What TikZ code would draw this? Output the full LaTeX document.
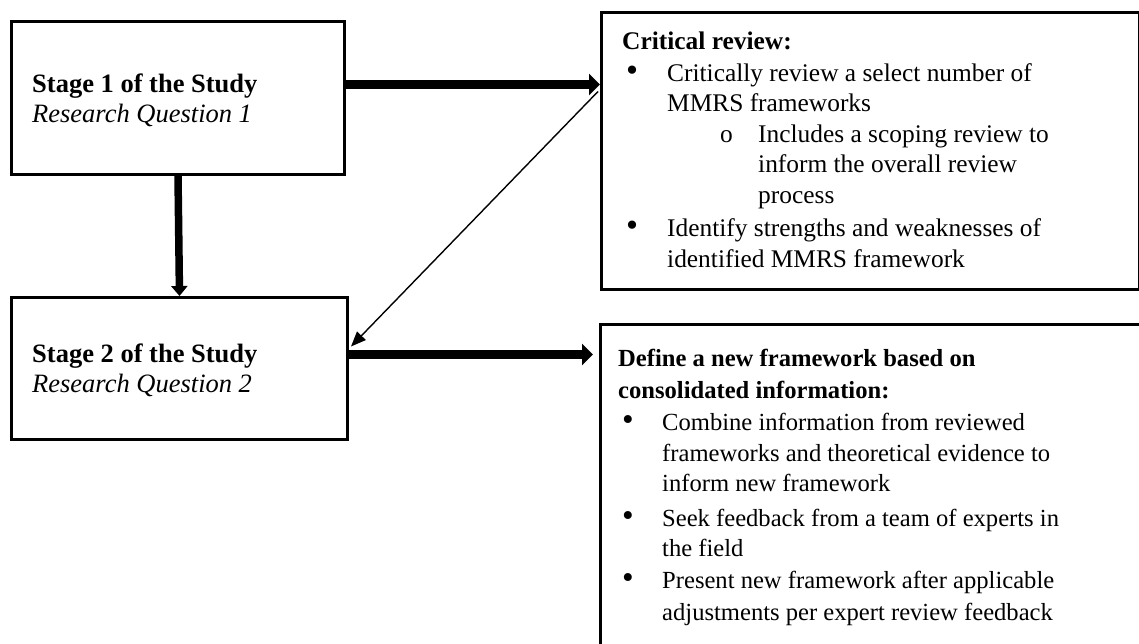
\documentclass[tikz,border=0pt]{standalone}
\usepackage{fontspec}
\setmainfont{Liberation Serif}
\usetikzlibrary{arrows.meta}
\begin{document}
\begin{tikzpicture}[x=1pt,y=-1pt,
  box/.style={draw=black,line width=3pt,fill=white,inner sep=0pt,anchor=north west},
  txt/.style={align=left,inner sep=0pt,anchor=base west},
  bigarrow/.style={line width=9pt,-{Triangle[length=11pt,width=21pt]}},
  midarrow/.style={line width=7.5pt,-{Triangle[length=10pt,width=16pt]}},
  thinarrow/.style={line width=1.4pt,-{Triangle[length=15pt,width=12pt]}}]
\useasboundingbox (0,0) rectangle (1139,643);
\clip (0,0) rectangle (1139,643);
% boxes
\node[box,minimum width=333pt,minimum height=153pt] (s1) at (10,20) {};
\node[box,minimum width=336pt,minimum height=142pt] (s2) at (10,296) {};
\node[box,minimum width=538pt,minimum height=277pt] (cr) at (600,11) {};
\node[box,minimum width=560pt,minimum height=340pt] (nf) at (599,323) {};
% texts (anchored at the baseline of their last line)
\node[txt,font=\fontsize{26.5}{30}\selectfont] (t1) at (32,122) {\textbf{Stage 1 of the Study}\\\textit{Research Question 1}};
\node[txt,font=\fontsize{26.5}{30}\selectfont] (t2) at (32,392) {\textbf{Stage 2 of the Study}\\\textit{Research Question 2}};
\newcommand{\bigbul}{\scalebox{1.35}{\textbullet}}
\newcommand{\bul}{\makebox[45pt][l]{\hspace*{4pt}\bigbul}}
\newcommand{\ind}{\hspace*{45pt}}
\node[txt,font=\fontsize{25.4}{30.5}\selectfont] (t3) at (622,267) {\textbf{Critical review:}\\[1.5pt]
\bul Critically review a select number of\\
\ind MMRS frameworks\\
\hspace*{98pt}\makebox[38pt][l]{o}Includes a scoping review to\\
\hspace*{136pt}inform the overall review\\
\hspace*{136pt}process\\[3pt]
\bul Identify strengths and weaknesses of\\
\ind identified MMRS framework};
\newcommand{\bulb}{\makebox[44pt][l]{\hspace*{4pt}\bigbul}}
\newcommand{\indb}{\hspace*{44pt}}
\node[txt,font=\fontsize{24.6}{30.5}\selectfont] (t4) at (618,620) {\textbf{Define a new framework based on}\\[1.5pt]
\textbf{consolidated information:}\\[1.5pt]
\bulb Combine information from reviewed\\
\indb frameworks and theoretical evidence to\\
\indb inform new framework\\[4pt]
\bulb Seek feedback from a team of experts in\\
\indb the field\\[1pt]
\bulb Present new framework after applicable\\[1.5pt]
\indb adjustments per expert review feedback};
% connectors
\coordinate (a1) at ([yshift=13.5pt]s1.east);
\draw[bigarrow] (a1) -- (a1 -| cr.west);
\draw[midarrow] (s1.south) -- (s2.north);
\coordinate (a3) at ([yshift=14pt]s2.east);
\draw[bigarrow] (a3) -- ([xshift=-6pt]a3 -| nf.west);
\draw[thinarrow] ([yshift=59.5pt,xshift=-2pt]cr.west) -- ([yshift=22pt,xshift=2pt]s2.east);
\end{tikzpicture}
\end{document}
